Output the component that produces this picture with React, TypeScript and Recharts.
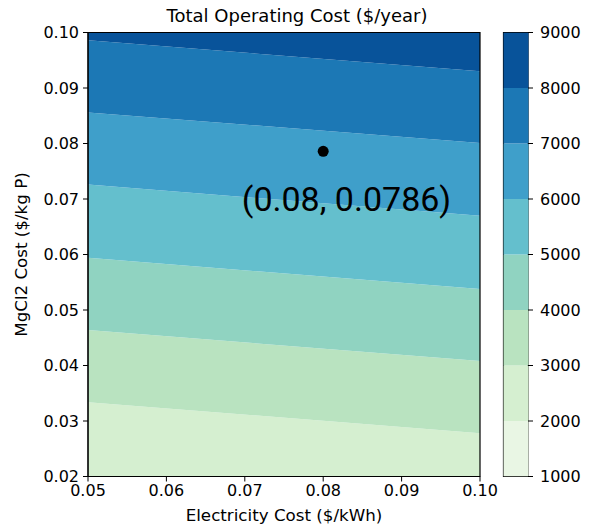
import {
  Area,
  AreaChart,
  Bar,
  BarChart,
  ReferenceArea,
  ReferenceDot,
  XAxis,
  YAxis,
} from 'recharts'

// electricity cost at the two edges of the plot
const elecCost = [0.05, 0.1]

// contour boundaries (MgCl2 cost) at each electricity cost
const lvl3000 = [0.0334, 0.0278]
const lvl4000 = [0.0464, 0.0408]
const lvl5000 = [0.0594, 0.0538]
const lvl6000 = [0.0726, 0.067]
const lvl7000 = [0.0856, 0.0801]
const lvl8000 = [0.0986, 0.093]
const topEdge = [0.1, 0.1]

const xTicks = [0.05, 0.06, 0.07, 0.08, 0.09, 0.1]
const yTicks = [0.02, 0.03, 0.04, 0.05, 0.06, 0.07, 0.08, 0.09, 0.1]

const cbLevels = [1000, 2000, 3000, 4000, 5000, 6000, 7000, 8000, 9000]
const cbColors = [
  '#e9f6e4',
  '#d5efd0',
  '#b9e3c0',
  '#90d3c1',
  '#64bfcd',
  '#3f9fca',
  '#1c78b5',
  '#08539a',
]

const point = { x: 0.08, y: 0.0786 }
const pointLabel = '(0.08, 0.0786)'

const bounds = [lvl3000, lvl4000, lvl5000, lvl6000, lvl7000, lvl8000, topEdge]
// band i sits between bounds[i-1] and bounds[i], coloured with cbColors[i+1]
const contourData = elecCost.map((x, j) => {
  const row: Record<string, number> = { x }
  bounds.forEach((b, i) => {
    row['b' + i] = i === 0 ? b[j] : b[j] - bounds[i - 1][j]
  })
  return row
})

const cbRow: Record<string, number | string> = { name: 'cb', base: cbLevels[0] }
cbColors.forEach((_, i) => {
  cbRow['s' + i] = cbLevels[i + 1] - cbLevels[i]
})
const cbData = [cbRow]

const font = 'DejaVu Sans, sans-serif'
const tickStyle = { fontSize: 16, fill: '#000', fontFamily: font }

const YLabel = (props: any) => {
  const { viewBox } = props
  const cx = viewBox.x + 21
  const cy = viewBox.y + viewBox.height / 2
  return (
    <text
      x={cx}
      y={cy}
      transform={`rotate(-90 ${cx} ${cy})`}
      textAnchor='middle'
      dominantBaseline='central'
      fontSize={16.7}
      fontFamily={font}
      fill='#000'>
      MgCl2 Cost ($/kg P)
    </text>
  )
}

const XLabel = (props: any) => {
  const { viewBox } = props
  return (
    <text
      x={viewBox.x + viewBox.width / 2}
      y={viewBox.y + 38}
      textAnchor='middle'
      dominantBaseline='central'
      fontSize={16.7}
      fontFamily={font}
      fill='#000'>
      Electricity Cost ($/kWh)
    </text>
  )
}

const Annotation = (props: any) => {
  const { viewBox } = props
  return (
    <text
      x={viewBox.x - 3}
      y={viewBox.y}
      dominantBaseline='central'
      fontSize={34}
      fontFamily="'Liberation Sans Narrow', Roboto, sans-serif"
      fill='#000'>
      {pointLabel}
    </text>
  )
}

const App = () => {
  return (
    <div style={{ position: 'absolute', left: 0, top: 0, width: 589, height: 527 }}>
      <div
        style={{
          position: 'absolute',
          left: 98,
          top: 6,
          width: 398,
          textAlign: 'center',
          fontFamily: font,
          fontSize: 18,
          lineHeight: '20px',
        }}>
        Total Operating Cost ($/year)
      </div>
      <div style={{ position: 'absolute', left: 0, top: 0 }}>
        <AreaChart
          width={500}
          height={527}
          data={contourData}
          margin={{ top: 32.5, right: 20, bottom: 0, left: 0 }}>
          <XAxis
            dataKey='x'
            type='number'
            domain={[0.05, 0.1]}
            ticks={xTicks}
            allowDataOverflow
            tickFormatter={(v: number) => v.toFixed(2)}
            tick={tickStyle}
            tickSize={5}
            tickMargin={3}
            height={50.5}
            stroke='#000'
            label={<XLabel />}
          />
          <YAxis
            type='number'
            domain={[0.02, 0.1]}
            ticks={yTicks}
            allowDataOverflow
            tickFormatter={(v: number) => v.toFixed(2)}
            tick={tickStyle}
            tickSize={5}
            tickMargin={4}
            width={88}
            stroke='#000'
            label={<YLabel />}
          />
          {bounds.map((_, i) => (
            <Area
              key={i}
              dataKey={'b' + i}
              stackId='c'
              type='linear'
              stroke='none'
              fill={cbColors[i + 1]}
              fillOpacity={1}
              dot={false}
              activeDot={false}
              isAnimationActive={false}
            />
          ))}
          <ReferenceArea
            x1={0.05}
            x2={0.1}
            y1={0.02}
            y2={0.1}
            fill='none'
            stroke='#000'
            strokeWidth={1.2}
            ifOverflow='visible'
          />
          <ReferenceDot
            x={point.x}
            y={point.y}
            r={5.5}
            fill='#000'
            stroke='none'
          />
          <ReferenceDot
            x={0.07}
            y={0.07}
            r={0}
            fill='none'
            stroke='none'
            label={<Annotation />}
          />
        </AreaChart>
      </div>
      <div style={{ position: 'absolute', left: 491, top: 0 }}>
        <BarChart
          width={97}
          height={527}
          data={cbData}
          barCategoryGap={0}
          margin={{ top: 32.5, right: 0, bottom: 50.5, left: 12.5 }}>
          <XAxis dataKey='name' hide />
          <YAxis
            orientation='right'
            type='number'
            domain={[1000, 9000]}
            ticks={cbLevels}
            allowDataOverflow
            tick={tickStyle}
            tickSize={5}
            tickMargin={7}
            width={60}
            axisLine={false}
            stroke='#000'
          />
          <Bar dataKey='base' stackId='cb' fill='none' isAnimationActive={false} />
          {cbColors.map((c, i) => (
            <Bar
              key={i}
              dataKey={'s' + i}
              stackId='cb'
              fill={c}
              isAnimationActive={false}
            />
          ))}
          <ReferenceArea
            y1={1000}
            y2={9000}
            fill='none'
            stroke='#000'
            strokeWidth={1.2}
            ifOverflow='visible'
          />
        </BarChart>
      </div>
    </div>
  )
}

export default App
